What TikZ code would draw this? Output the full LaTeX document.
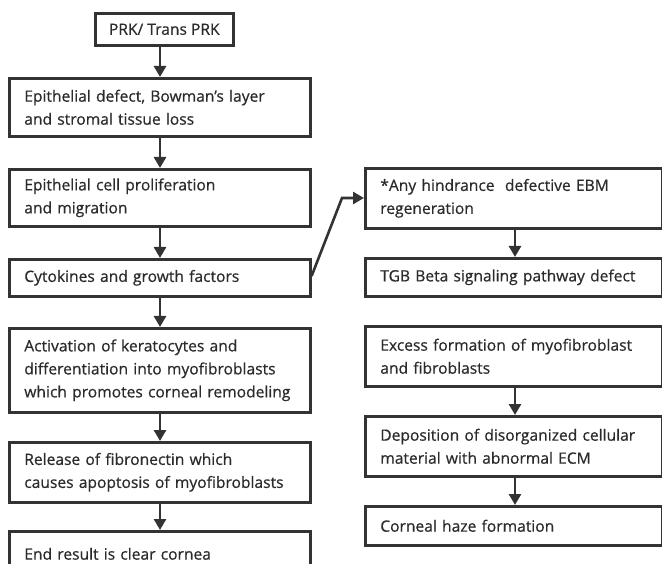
\documentclass[tikz,border=0pt]{standalone}
\usepackage{fontspec}
\setmainfont{Open Sans}[FakeBold=0.6]
\usepackage{xcolor}
\usetikzlibrary{arrows.meta,positioning}

\definecolor{boxline}{HTML}{333333}
\definecolor{boxtext}{HTML}{2B2B2B}
\hyphenpenalty=10000

\begin{document}
\begin{tikzpicture}[x=1pt, y=-1pt,
  stepbox/.style={draw=boxline, line width=2.6pt, rectangle, anchor=north west,
    inner xsep=15pt, inner ysep=0pt, align=left, text=boxtext,
    font=\fontsize{15.6}{23}\selectfont},
  leftbox/.style={stepbox, minimum width=301pt, text width=271pt},
  rightbox/.style={stepbox, minimum width=297pt, text width=267pt},
  flow/.style={draw=boxline, line width=2.6pt, -{Triangle[width=12pt,length=11pt]}}]
  \useasboundingbox (0,0) rectangle (662,564);

  % Left column (normal healing)
  \node[stepbox, align=center, minimum width=138pt, minimum height=32pt, inner xsep=4pt] (prk) at (94,12) {PRK/ Trans PRK};
  \node[leftbox, minimum height=58pt] (defect) at (8,77) {Epithelial defect, Bowman's layer\\and stromal tissue loss};
  \node[leftbox, minimum height=57pt] (prolif) at (8,168) {Epithelial cell proliferation\\and migration};
  \node[leftbox, minimum height=37pt] (cyto) at (8,258) {Cytokines and growth factors};
  \node[leftbox, minimum height=84pt] (kerato) at (8,327) {Activation of keratocytes and\\differentiation into myofibroblasts\\which promotes corneal remodeling};
  \node[leftbox, minimum height=60pt] (fibro) at (8,441) {Release of fibronectin which\\causes apoptosis of myofibroblasts};
  \node[leftbox, minimum height=45pt] (clear) at (8,530) {End result is clear cornea};

  % Right column (haze)
  \node[rightbox, minimum height=60pt] (ebm) at (364,167) {*Any hindrance\ \ defective EBM\\regeneration};
  \node[rightbox, minimum height=38pt] (tgb) at (364,257) {TGB Beta signaling pathway defect};
  \node[rightbox, minimum height=60pt] (excess) at (364,325) {Excess formation of myofibroblast\\and fibroblasts};
  \node[rightbox, minimum height=60pt] (depo) at (364,415) {Deposition of disorganized cellular\\material with abnormal ECM};
  \node[rightbox, minimum height=39pt] (haze) at (364,505) {Corneal haze formation};

  % Arrows
  \draw[flow] (prk.south -| 160,0) -- (defect.north -| 160,0);
  \draw[flow] (defect.south -| 160,0) -- (prolif.north -| 160,0);
  \draw[flow] (prolif.south -| 160,0) -- (cyto.north -| 160,0);
  \draw[flow] (cyto.south -| 160,0) -- (kerato.north -| 160,0);
  \draw[flow] (kerato.south -| 160,0) -- (fibro.north -| 160,0);
  \draw[flow] (fibro.south -| 160,0) -- (clear.north -| 160,0);
  \draw[flow] (ebm.south -| 515,0) -- (tgb.north -| 515,0);
  \draw[flow] (excess.south -| 515,0) -- (depo.north -| 515,0);
  \draw[flow] (depo.south -| 515,0) -- (haze.north -| 515,0);
  \coordinate (bend) at (342,198);
  \draw[flow] (cyto.east |- 0,276) -- (bend) -- (ebm.west |- bend);
\end{tikzpicture}
\end{document}
